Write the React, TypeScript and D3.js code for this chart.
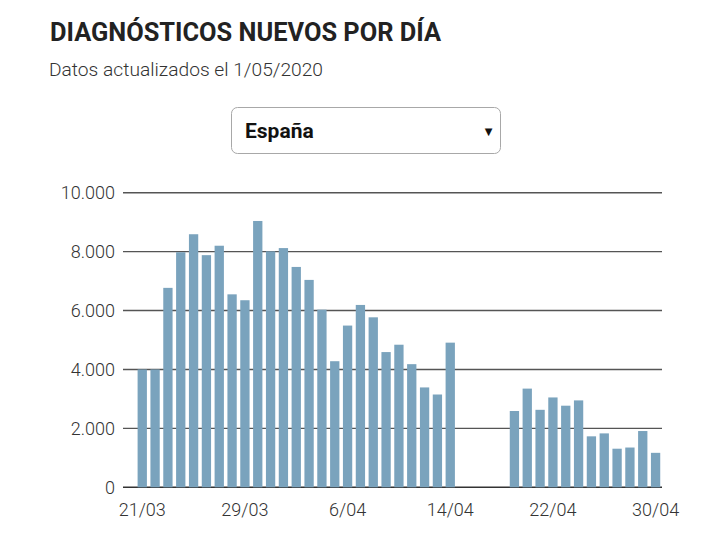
import React from "react";
import * as d3 from "d3";

const dates: string[] = [
  "21/03","22/03","23/03","24/03","25/03","26/03","27/03","28/03","29/03","30/03","31/03",
  "1/04","2/04","3/04","4/04","5/04","6/04","7/04","8/04","9/04","10/04","11/04","12/04","13/04","14/04",
  "15/04","16/04","17/04","18/04","19/04","20/04","21/04","22/04","23/04","24/04","25/04","26/04","27/04","28/04","29/04","30/04",
];
const values: (number | null)[] = [
  4000, 4000, 6770, 7980, 8590, 7880, 8200, 6550, 6350, 9040, 8010,
  8120, 7480, 7040, 6030, 4280, 5490, 6190, 5770, 4590, 4840, 4180, 3390, 3150, 4910,
  null, null, null, null, 2590, 3350, 2630, 3050, 2770, 2950, 1730, 1830, 1310, 1350, 1910, 1170,
];
const yTicks: number[] = [0, 2000, 4000, 6000, 8000, 10000];
const xTickLabels: string[] = ["21/03", "29/03", "6/04", "14/04", "22/04", "30/04"];

const fmt = (v: number) => (v >= 1000 ? d3.format(",")(v).replace(/,/g, ".") : String(v));

export default function App() {
  const W = 711, H = 536;
  const left = 123, right = 662, top = 192.7, bottom = 487.3;
  const x = d3.scaleLinear().domain([-1.5, dates.length - 0.5]).range([left, right]);
  const y = d3.scaleLinear().domain([0, 10000]).range([bottom, top]);
  const step = x(1) - x(0);
  const bw = step * 0.725;
  const font = "Roboto, 'Noto Sans', sans-serif";
  return (
    <svg width={W} height={H} style={{ position: "absolute", left: 0, top: 0, background: "#fff" }}>
      <text x={50} y={41} fontFamily={font} fontWeight={700} fontSize={26} fill="#222"
        textLength={391} lengthAdjust="spacingAndGlyphs">DIAGNÓSTICOS NUEVOS POR DÍA</text>
      <text x={49} y={76} fontFamily={font} fontWeight={300} fontSize={18.7} fill="#333"
        textLength={274} lengthAdjust="spacingAndGlyphs">Datos actualizados el 1/05/2020</text>

      <rect x={231.5} y={107.5} width={269} height={46} rx={6} fill="#fff" stroke="#a8a8a8" strokeWidth={1} />
      <text x={245} y={138} fontFamily={font} fontWeight={700} fontSize={21} fill="#111">España</text>
      <text x={488.5} y={135} fontFamily="'DejaVu Sans', sans-serif" fontSize={10} textAnchor="middle" fill="#111">▼</text>

      {yTicks.map((t) => (
        <g key={t}>
          <line x1={left} x2={right} y1={y(t)} y2={y(t)} stroke={t === 0 ? "#333" : "#555"} strokeWidth={1.4} />
          <text x={115} y={y(t)} dy="0.35em" textAnchor="end" fontFamily={font} fontWeight={300} fontSize={18} fill="#333">{fmt(t)}</text>
        </g>
      ))}

      {values.map((v, i) =>
        v == null ? null : (
          <rect key={i} x={x(i) - bw / 2} y={y(v)} width={bw} height={y(0) - y(v)} fill="#7aa3bd" />
        )
      )}

      {xTickLabels.map((lab) => {
        const i = dates.indexOf(lab);
        return (
          <text key={lab} x={x(i)} y={516} textAnchor="middle" fontFamily={font} fontWeight={300} fontSize={18} fill="#333">{lab}</text>
        );
      })}
    </svg>
  );
}
